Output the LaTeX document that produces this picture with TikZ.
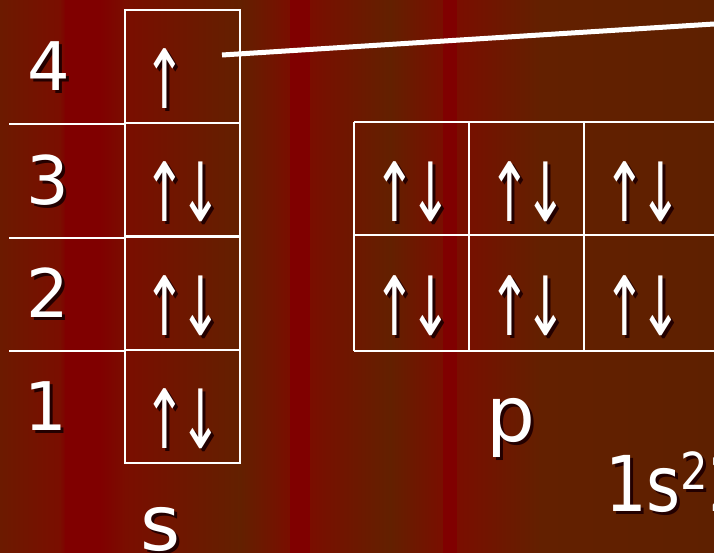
\documentclass[tikz,border=0pt]{standalone}
\usepackage{fontspec}
\setmainfont{DejaVu Sans}
\usetikzlibrary{positioning}
\definecolor{slidered}{RGB}{128,0,0}
\definecolor{slidebrown}{RGB}{99,32,0}
\definecolor{slidedeep}{RGB}{94,32,0}
\definecolor{slidemix}{RGB}{122,14,0}
\definecolor{slidewarm}{RGB}{108,26,0}
\definecolor{textshade}{RGB}{35,0,0}
\newcommand{\shadowtxt}[1]{\rlap{\kern3pt\smash{\raisebox{-3pt}{\color{textshade}#1}}}#1}
\newcommand{\spins}[1]{\shadowtxt{\scalebox{0.76}[1.22]{#1}}}

\begin{document}
\begin{tikzpicture}[
    x=1pt, y=-1pt,
    cell/.style={rectangle, draw=white, line width=2pt, minimum width=115pt, minimum height=113.25pt,
                 inner sep=0pt, text=white, font=\fontsize{67}{70}\selectfont,
                 text height=84pt, text depth=0pt},
    pcell/.style={cell, draw=none},
    grid/.style={white, line width=2pt},
    level/.style={text=white, font=\fontsize{67}{70}\selectfont, inner sep=0pt},
    tag/.style={text=white, font=\fontsize{77}{80}\selectfont, inner sep=0pt, anchor=base}
]
    \useasboundingbox (0,0) rectangle (714,552);
    \clip (0,0) rectangle (714,552);
    % striped slide background
    \foreach \xa/\xb/\ca/\cb in {0/60/slidewarm/slidemix, 60/65/slidemix/slidered, 65/100/slidered/slidered,
        100/125/slidered/slidemix, 125/240/slidemix/slidebrown, 240/290/slidebrown/slidemix,
        290/310/slidered/slidered, 310/390/slidemix/slidebrown, 390/443/slidebrown/slidemix,
        443/457/slidered/slidered, 457/540/slidemix/slidebrown, 540/714/slidebrown/slidedeep}
        \shade[left color=\ca, right color=\cb] (\xa,0) rectangle (\xb+0.6,552);

    % s column
    \node[cell] (s4) at (182.5,66.6) {\spins{↑\kern-9pt\phantom{↓}}};
    \node[cell] (s3) at (182.5,179.9) {\spins{↑\kern-9pt↓}};
    \node[cell] (s2) at (182.5,293.1) {\spins{↑\kern-9pt↓}};
    \node[cell] (s1) at (182.5,406.4) {\spins{↑\kern-9pt↓}};
    \node[level] (n4) at (49,66) {\shadowtxt{4}};
    \node[level] (n3) at (48,180) {\shadowtxt{3}};
    \node[level] (n2) at (48,293) {\shadowtxt{2}};
    \node[level] (n1) at (46,406) {\shadowtxt{1}};
    \draw[grid] (s4.south west) -- ++(-115,0);
    \draw[grid] (s3.south west) -- ++(-115,0);
    \draw[grid] (s2.south west) -- ++(-115,0);

    % p block
    \node[pcell] (p3a) at (412.5,179.9) {\spins{↑\kern-9pt↓}};
    \node[pcell] (p3b) at (527.5,179.9) {\spins{↑\kern-9pt↓}};
    \node[pcell] (p3c) at (642.5,179.9) {\spins{↑\kern-9pt↓}};
    \node[pcell] (p2a) at (412.5,293.1) {\spins{↑\kern-9pt↓}};
    \node[pcell] (p2b) at (527.5,293.1) {\spins{↑\kern-9pt↓}};
    \node[pcell] (p2c) at (642.5,293.1) {\spins{↑\kern-9pt↓}};
    \draw[grid] (p3a.north west) -- ++(400,0);
    \draw[grid] (p2a.north west) -- ++(400,0);
    \draw[grid] (p2a.south west) -- ++(400,0);
    \foreach \c in {a,b,c}
        \draw[grid] (p3\c.north west) -- (p2\c.south west);

    % labels
    \node[tag] (slabel) at (161,550) {\shadowtxt{s}};
    \node[tag] (plabel) at (511,441) {\shadowtxt{p}};
    \node[tag, anchor=base west] (config) at (605,511)
        {\shadowtxt{\scalebox{0.85}[1]{1s\raisebox{22pt}{\fontsize{51}{51}\selectfont 2}2}}};

    % pointer to the outer electron
    \coordinate (tail) at (222,55);
    \coordinate (far) at (714,24);
    \draw[white, line width=5pt] (tail) -- (far);
\end{tikzpicture}
\end{document}
